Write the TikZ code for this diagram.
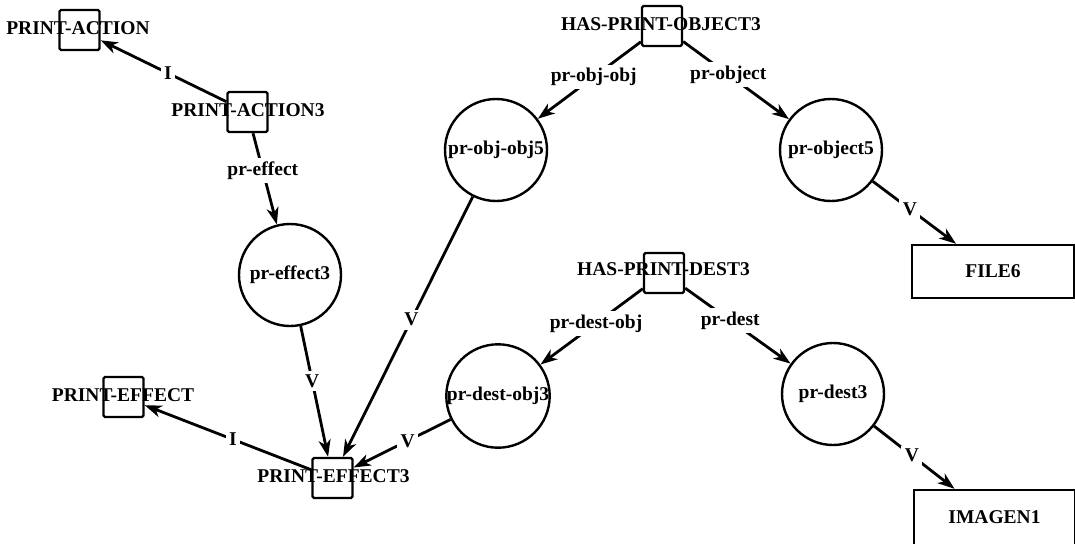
\documentclass[tikz,border=0pt]{standalone}
\usepackage{fontspec}
\setmainfont{Liberation Serif}
\usetikzlibrary{arrows.meta}
\begin{document}
\begin{tikzpicture}[x=1pt,y=-1pt,
  txt/.style={font=\fontsize{19.5}{22}\selectfont\bfseries, inner sep=0pt},
  sq/.style={draw, line width=2.4pt, minimum width=40pt, minimum height=40pt, inner sep=0pt, rounded corners=1.5pt},
  circ/.style={circle, draw, line width=2.4pt, minimum size=102pt, inner sep=0pt, font=\fontsize{19.5}{22}\selectfont\bfseries},
  bx/.style={draw, line width=2.4pt, inner sep=0pt, font=\fontsize{19.5}{22}\selectfont\bfseries},
  conn/.style={line width=2.8pt, -{Stealth[length=17pt,width=12pt,inset=5pt]}},
  elab/.style={fill=white, inner sep=3.5pt, font=\fontsize{19.5}{22}\selectfont\bfseries}]
\useasboundingbox (0,0) rectangle (1075,543);
% concept labels
\node[txt] (pa-l)   at (78,28)    {PRINT-ACTION};
\node[txt] (pa3-l)  at (248,110)  {PRINT-ACTION3};
\node[txt] (hpo3-l) at (661,24)   {HAS-PRINT-OBJECT3};
\node[txt] (hpd3-l) at (663.5,269) {HAS-PRINT-DEST3};
\node[txt] (pe-l)   at (123,395)  {PRINT-EFFECT};
\node[txt] (pe3-l)  at (333.5,476) {PRINT-EFFECT3};
% squares
\node[sq] (pa)   at (79.5,30)  {};
\node[sq] (pa3)  at (247.5,112) {};
\node[sq] (hpo3) at (662,26)   {};
\node[sq] (hpd3) at (664,273)  {};
\node[sq] (pe)   at (123.5,397) {};
\node[sq] (pe3)  at (332.5,478) {};
% circles
\node[circ] (pef3) at (290,275) {pr-effect3};
\node[circ] (ppo5) at (496,150) {pr-obj-obj5};
\node[circ] (pob5) at (831,150) {pr-object5};
\node[circ] (pdo3) at (498,396) {pr-dest-obj3};
\node[circ] (pd3)  at (833,394) {pr-dest3};
% boxes
\node[bx, minimum width=162pt, minimum height=53pt] (file6) at (993,271.5) {FILE6};
\node[bx, minimum width=161pt, minimum height=60pt] (img) at (994.5,520) {\raisebox{6pt}{IMAGEN1}};
% connectors
\draw[conn] (pa3) -- node[elab,pos=0.465] {I} (pa);
\draw[conn] (pa3) -- node[elab,pos=0.41] {pr-effect} (pef3);
\draw[conn] (pef3) -- node[elab,pos=0.42] {V} (pe3);
\draw[conn] (ppo5) -- node[elab,pos=0.473] {V} (pe3);
\draw[conn] (pdo3) -- node[elab,pos=0.444] {V} (pe3);
\draw[conn] (pe3) -- node[elab,pos=0.47] {I} (pe);
\draw[conn] (hpo3) -- node[elab,pos=0.457] {pr-obj-obj} (ppo5);
\draw[conn] (hpo3) -- node[elab,pos=0.426] {pr-object} (pob5);
\draw[conn] (pob5) -- node[elab,pos=0.445] {V} (file6);
\draw[conn] (hpd3) -- node[elab,pos=0.457] {pr-dest-obj} (pdo3);
\draw[conn] (hpd3) -- node[elab,pos=0.428] {pr-dest} (pd3);
\draw[conn] (pd3) -- node[elab,pos=0.47] {V} (img);
\end{tikzpicture}
\end{document}
